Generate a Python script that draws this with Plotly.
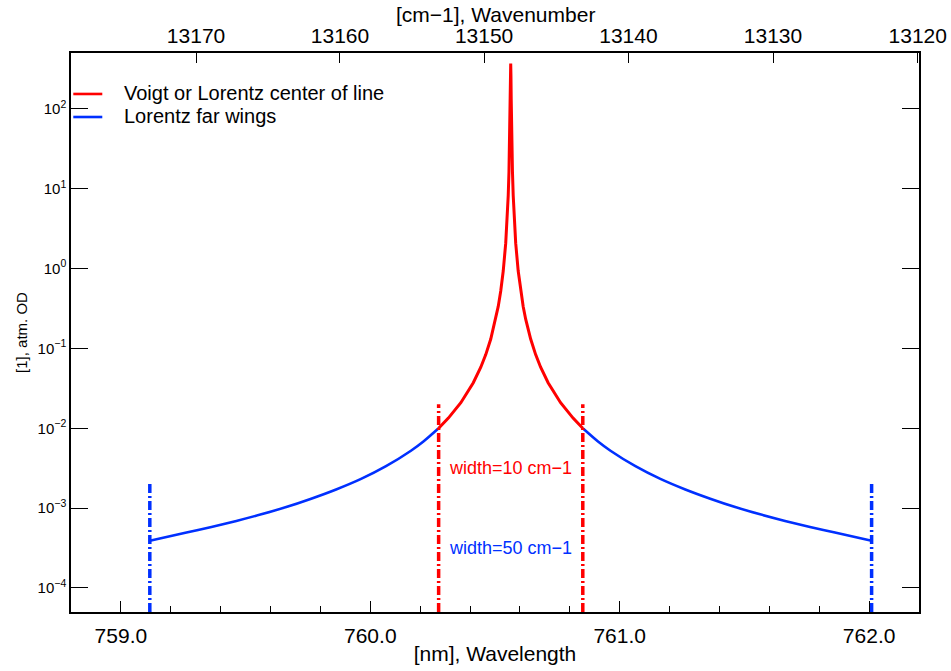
import math
import plotly.graph_objects as go

# ---------------- data ----------------
# Lorentz far wings (blue), left and right of the line centre
wing_left_nm = [759.116, 759.263, 759.363, 759.463, 759.563, 759.663, 759.763,
                759.863, 759.963, 760.063, 760.163, 760.213, 760.274]
wing_left_od = [0.00039, 0.000495, 0.000581, 0.000691, 0.000836, 0.00103, 0.00131,
                0.00171, 0.00232, 0.00335, 0.00523, 0.00683, 0.0100]
wing_right_nm = [760.852, 760.913, 760.963, 761.063, 761.163, 761.263, 761.363,
                 761.463, 761.563, 761.663, 761.763, 761.863, 762.010]
wing_right_od = [0.0100, 0.00683, 0.00523, 0.00335, 0.00232, 0.00171, 0.00131,
                 0.00103, 0.000836, 0.000691, 0.000581, 0.000495, 0.00039]

# Voigt / Lorentz centre of line (red)
centre_nm = [760.274, 760.313, 760.363, 760.413, 760.443, 760.463, 760.483, 760.503,
             760.513, 760.523, 760.533, 760.543, 760.548, 760.553, 760.556, 760.558,
             760.560, 760.561, 760.562, 760.563, 760.564, 760.565, 760.566, 760.568,
             760.570, 760.573, 760.578, 760.583, 760.593, 760.603, 760.613, 760.623,
             760.643, 760.663, 760.683, 760.713, 760.763, 760.813, 760.852]
centre_od = [0.0100, 0.0134, 0.0209, 0.0372, 0.0581, 0.0836, 0.131, 0.232,
             0.335, 0.523, 0.93, 2.08, 3.68, 8.2, 16.3, 30.7,
             74.0, 134.0, 256.0, 370.0, 256.0, 134.0, 74.0, 30.7,
             16.3, 8.2, 3.68, 2.08, 0.93, 0.523, 0.335, 0.232,
             0.131, 0.0836, 0.0581, 0.0372, 0.0209, 0.0134, 0.0100]

# vertical width markers
red_marker_nm = [760.274, 760.852]
red_marker_od = [5e-5, 0.02]
blue_marker_nm = [759.116, 762.010]
blue_marker_od = [5e-5, 0.002]

# labels
legend_labels = ["Voigt or Lorentz center of line", "Lorentz far wings"]
width_labels = ["width=10 cm−1", "width=50 cm−1"]
width_label_od = [0.0032, 0.00032]

# axes
x_range_nm = [758.8, 762.2]
y_range_od = [5e-5, 500]
x_ticks_nm = [759.0, 760.0, 761.0, 762.0]
x_ticktext = ["759.0", "760.0", "761.0", "762.0"]
top_ticks_cm = [13170, 13160, 13150, 13140, 13130, 13120]
y_ticks = [1e-4, 1e-3, 1e-2, 1e-1, 1e0, 1e1, 1e2]
y_ticktext = ["10<sup>−4</sup>", "10<sup>−3</sup>", "10<sup>−2</sup>", "10<sup>−1</sup>",
              "10<sup>0</sup>", "10<sup>1</sup>", "10<sup>2</sup>"]

RED = "#ff0000"
BLUE = "#0030ff"
FONT = "Liberation Sans"
FS = 21

fig = go.Figure()

fig.add_trace(go.Scatter(x=wing_left_nm, y=wing_left_od, mode="lines",
                         line=dict(color=BLUE, width=2.6, shape="spline", smoothing=0.8),
                         name=legend_labels[1], showlegend=False))
fig.add_trace(go.Scatter(x=wing_right_nm, y=wing_right_od, mode="lines",
                         line=dict(color=BLUE, width=2.6, shape="spline", smoothing=0.8),
                         name=legend_labels[1], showlegend=False))
fig.add_trace(go.Scatter(x=centre_nm, y=centre_od, mode="lines",
                         line=dict(color=RED, width=3),
                         name=legend_labels[0], showlegend=False))

DASH = "9px,3px,2px,3px"
for xv in red_marker_nm:
    fig.add_trace(go.Scatter(x=[xv, xv], y=red_marker_od, mode="lines",
                             line=dict(color=RED, width=3.5, dash=DASH),
                             showlegend=False, hoverinfo="skip"))
for xv in blue_marker_nm:
    fig.add_trace(go.Scatter(x=[xv, xv], y=blue_marker_od, mode="lines",
                             line=dict(color=BLUE, width=3.5, dash=DASH),
                             showlegend=False, hoverinfo="skip"))

# invisible trace for the top (wavenumber) axis
fig.add_trace(go.Scatter(x=x_range_nm, y=[1, 1], xaxis="x2", mode="lines",
                         line=dict(width=0), opacity=0, showlegend=False, hoverinfo="skip"))

# width labels
centre_x = (red_marker_nm[0] + red_marker_nm[1]) / 2
for txt, yv, col in zip(width_labels, width_label_od, [RED, BLUE]):
    fig.add_annotation(x=centre_x, y=math.log10(yv), text=txt, showarrow=False,
                       font=dict(family=FONT, size=18, color=col))

# legend drawn by hand (short line samples + text)
for (y_line, y_text, col, txt) in [(0.9267, 0.9284, RED, legend_labels[0]),
                                   (0.8855, 0.8873, BLUE, legend_labels[1])]:
    fig.add_shape(type="line", xref="paper", yref="paper", x0=0.0027, x1=0.0369,
                  y0=y_line, y1=y_line, line=dict(color=col, width=2.6))
    fig.add_annotation(xref="paper", yref="paper", x=0.0617, y=y_text, xanchor="left",
                       yanchor="middle", text=txt, showarrow=False, borderpad=0,
                       font=dict(family=FONT, size=20, color="black"))

# top axis title
fig.add_annotation(xref="paper", yref="paper", x=0.5, y=1.068, xanchor="center",
                   yanchor="middle", text="[cm−1], Wavenumber", showarrow=False,
                   borderpad=0, font=dict(family=FONT, size=FS, color="black"))

fig.update_layout(
    width=951, height=671,
    margin=dict(l=71, r=32, t=53, b=59, autoexpand=False),
    paper_bgcolor="white", plot_bgcolor="white",
    font=dict(family=FONT, color="black"),
    showlegend=False,
    xaxis=dict(range=x_range_nm, tickvals=x_ticks_nm, ticktext=x_ticktext, automargin=False,
               ticks="inside", ticklen=11, tickcolor="black", tickwidth=1,
               showline=True, linecolor="black", linewidth=1.5, mirror=False,
               showgrid=False, zeroline=False,
               tickfont=dict(family=FONT, size=FS), ticklabelstandoff=4,
               minor=dict(dtick=0.2, tick0=759.0, ticks="inside", ticklen=6,
                          tickcolor="black", tickwidth=1, showgrid=False),
               title=dict(text="[nm], Wavelength", font=dict(family=FONT, size=FS), standoff=0)),
    xaxis2=dict(overlaying="x", side="top", range=x_range_nm, automargin=False,
                tickvals=[1e7 / v for v in top_ticks_cm],
                ticktext=[str(v) for v in top_ticks_cm],
                ticks="inside", ticklen=10, tickcolor="black", tickwidth=1,
                showline=True, linecolor="black", linewidth=1.5,
                showgrid=False, zeroline=False,
                tickfont=dict(family=FONT, size=FS)),
    yaxis=dict(type="log", range=[math.log10(y_range_od[0]), math.log10(y_range_od[1])],
               tickvals=y_ticks, ticktext=y_ticktext, automargin=False,
               ticks="inside", ticklen=17, tickcolor="black", tickwidth=1,
               showline=True, linecolor="black", linewidth=1.5, mirror="ticks",
               showgrid=False, zeroline=False,
               tickfont=dict(family=FONT, size=15),
               title=dict(text="[1], atm. OD", font=dict(family=FONT, size=15), standoff=6)),
)

fig.write_html("out.html")
